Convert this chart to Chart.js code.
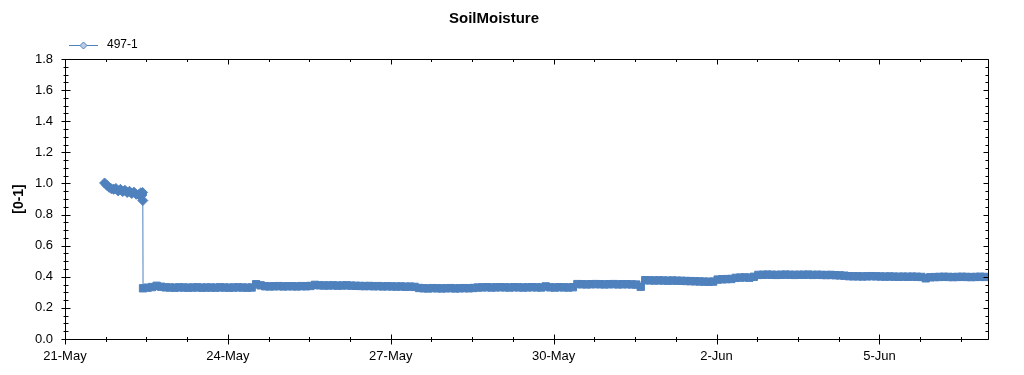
<!DOCTYPE html>
<html>
<head>
<meta charset="utf-8">
<script src="https://cdn.jsdelivr.net/npm/chart.js@4.4.0/dist/chart.umd.min.js"></script>
<style>
  html, body { margin: 0; padding: 0; background: #fff; }
  #wrap { width: 1024px; height: 375px; }
</style>
</head>
<body>
<div id="wrap"><canvas id="myChart" width="1024" height="375"></canvas></div>
<script>
const seriesName = '497-1';
const dateLabels = ['21-May', '24-May', '27-May', '30-May', '2-Jun', '5-Jun'];  // every 3 days

// first day, hours since 21-May 00:00
const earlyHours = [17.5, 18.5, 19.5, 20.5, 21.5, 22.5, 23.5, 24.5, 25.5, 26.5,
    27.5, 28.5, 29.5, 30.5, 31.5, 32.5, 33.5, 34.0, 34.3, 34.4];
const earlyMoisture = [1.003, 0.988, 0.975, 0.966, 0.962, 0.968, 0.952, 0.962, 0.948, 0.956,
    0.942, 0.950, 0.936, 0.944, 0.930, 0.928, 0.940, 0.926, 0.942, 0.890];

// after the drop: one reading every 2 hours
const mainStartHour = 34.5;
const mainStepHours = 2;
const mainMoisture = [
    0.326, 0.330, 0.334, 0.342, 0.336, 0.332,
    0.331, 0.330, 0.332, 0.331, 0.330, 0.331, 0.332, 0.330, 0.331, 0.331,
    0.330, 0.332, 0.331, 0.330, 0.331, 0.332, 0.331, 0.330, 0.331,
    0.352, 0.345,
    0.339, 0.338, 0.339, 0.340, 0.338, 0.339, 0.339, 0.338, 0.340, 0.339, 0.341,
    0.348,
    0.345, 0.344, 0.344, 0.345, 0.343, 0.344, 0.345, 0.343,
    0.342, 0.341, 0.340, 0.341, 0.339, 0.340, 0.338, 0.339, 0.338, 0.337, 0.338, 0.336, 0.337, 0.335,
    0.328, 0.326, 0.325, 0.327, 0.326, 0.325, 0.326, 0.327, 0.325, 0.326, 0.327, 0.326, 0.328,
    0.331, 0.332, 0.333, 0.331, 0.332, 0.333, 0.332, 0.331, 0.333, 0.332, 0.331, 0.332, 0.333, 0.332, 0.331,
    0.338,
    0.332, 0.331, 0.333, 0.332, 0.331, 0.333,
    0.353, 0.352, 0.351, 0.352, 0.353, 0.352, 0.351, 0.352, 0.353, 0.351, 0.352, 0.352, 0.351, 0.350, 0.336,
    0.378, 0.377, 0.376, 0.377, 0.376, 0.375, 0.376, 0.375, 0.374, 0.373, 0.372, 0.371, 0.370, 0.369, 0.368, 0.369,
    0.382, 0.384, 0.385, 0.386,
    0.393, 0.395, 0.396, 0.394,
    0.400,
    0.412, 0.413, 0.414, 0.413, 0.412, 0.413, 0.414, 0.413, 0.412, 0.413,
    0.413, 0.414, 0.412, 0.413, 0.412, 0.411, 0.412, 0.410, 0.409, 0.407,
    0.404, 0.403, 0.403, 0.402, 0.403, 0.404, 0.403, 0.402, 0.401, 0.402, 0.401, 0.400, 0.401,
    0.400, 0.401, 0.400, 0.399,
    0.390,
    0.397, 0.398, 0.399, 0.400, 0.399, 0.398, 0.399, 0.400, 0.399, 0.398, 0.399, 0.400, 0.399
];

const blue = '#4f81bd';
const lightBlue = '#b8cce4';
const font = '"Liberation Sans", Arial, sans-serif';

let points = [];
for (let i = 0; i < earlyHours.length; i++) {
    points.push({ x: earlyHours[i] / 24, y: earlyMoisture[i] });
}
for (let i = 0; i < mainMoisture.length; i++) {
    points.push({ x: (mainStartHour + i * mainStepHours) / 24, y: mainMoisture[i] });
}
const dropDay = mainStartHour / 24;

// frame round the plot, ticks crossing the axes, and the legend
const frameTicks = {
    id: 'frameTicks',
    afterDraw(chart) {
        const ctx = chart.ctx;
        const a = chart.chartArea;
        const xs = chart.scales.x, ys = chart.scales.y;
        const L = Math.round(a.left) + 0.5, R = Math.round(a.right) + 0.5;
        const T = Math.round(a.top) + 0.5, B = Math.round(a.bottom) + 0.5;
        ctx.save();
        ctx.strokeStyle = '#000';
        ctx.lineWidth = 1;
        ctx.beginPath();
        ctx.rect(L, T, R - L, B - T);
        xs.ticks.forEach(t => {
            const v = t.value;
            if (Math.abs(v / 0.75 - Math.round(v / 0.75)) > 1e-6 || v >= xs.max) return;
            const px = Math.round(xs.getPixelForValue(v)) + 0.5;
            const major = Math.abs(v / 3 - Math.round(v / 3)) < 1e-6;
            const out = major ? 5 : 2.5, inn = major ? 5 : 2.5;
            ctx.moveTo(px, B + out); ctx.lineTo(px, B - inn);
            ctx.moveTo(px, T); ctx.lineTo(px, T + inn);
        });
        ys.ticks.forEach(t => {
            const v = t.value;
            const py = Math.round(ys.getPixelForValue(v)) + 0.5;
            const major = Math.round(v * 100) % 20 === 0;
            const out = major ? 4 : 2, inn = major ? 5 : 3;
            ctx.moveTo(L - out, py); ctx.lineTo(L + inn, py);
            ctx.moveTo(R, py); ctx.lineTo(R - inn, py);
        });
        ctx.stroke();

        // legend
        const ly = 45.5;
        ctx.strokeStyle = blue;
        ctx.beginPath();
        ctx.moveTo(a.left + 4, ly); ctx.lineTo(a.left + 33, ly);
        ctx.stroke();
        const cx = a.left + 18.5, r = 3.5;
        ctx.beginPath();
        ctx.moveTo(cx, ly - r); ctx.lineTo(cx + r, ly); ctx.lineTo(cx, ly + r); ctx.lineTo(cx - r, ly);
        ctx.closePath();
        ctx.fillStyle = lightBlue;
        ctx.fill();
        ctx.stroke();
        ctx.fillStyle = '#000';
        ctx.font = '12px ' + font;
        ctx.textBaseline = 'middle';
        ctx.fillText(seriesName, a.left + 42, 45);
        ctx.restore();
    }
};

const config = {
    type: 'line',
    data: {
        datasets: [{
            label: seriesName,
            data: points,
            borderColor: blue,
            borderWidth: 1,
            tension: 0,
            pointStyle: ctx => (ctx.raw && ctx.raw.x < dropDay) ? 'rectRot' : 'rect',
            pointRadius: ctx => (ctx.raw && ctx.raw.x < dropDay) ? 5 : 5.2,
            pointBackgroundColor: blue,
            pointBorderColor: blue,
            pointBorderWidth: 1
        }]
    },
    options: {
        responsive: false,
        animation: false,
        layout: { padding: { left: 0, right: 36, top: 0, bottom: 0 } },
        plugins: {
            legend: { display: false },
            tooltip: { enabled: false },
            title: {
                display: true,
                text: 'SoilMoisture',
                color: '#000',
                font: { family: font, size: 15, weight: 'bold' },
                padding: { top: 10, bottom: 31 }
            }
        },
        scales: {
            x: {
                type: 'linear',
                min: 0,
                max: 17,
                grid: { display: false, drawTicks: false },
                border: { display: false },
                ticks: {
                    stepSize: 0.75,
                    autoSkip: false,
                    maxRotation: 0,
                    padding: 10,
                    color: '#000',
                    font: { family: font, size: 13 },
                    callback: v => {
                        const k = Math.round(v / 3);
                        return (Math.abs(v - 3 * k) < 1e-6 && dateLabels[k]) ? dateLabels[k] : '';
                    }
                },
                afterFit: s => { s.height = 36; }
            },
            y: {
                min: 0,
                max: 1.8,
                grid: { display: false, drawTicks: false },
                border: { display: false },
                ticks: {
                    stepSize: 0.05,
                    autoSkip: false,
                    padding: 12,
                    color: '#000',
                    font: { family: font, size: 13 },
                    callback: v => Math.round(v * 100) % 20 === 0 ? v.toFixed(1) : ''
                },
                title: {
                    display: true,
                    text: '[0-1]',
                    color: '#000',
                    font: { family: font, size: 14, weight: 'bold' },
                    padding: { top: 11, bottom: 0 }
                },
                afterFit: s => { s.width = 65; }
            }
        }
    },
    plugins: [frameTicks]
};

const myChart = new Chart(document.getElementById('myChart'), config);
</script>
</body>
</html>
